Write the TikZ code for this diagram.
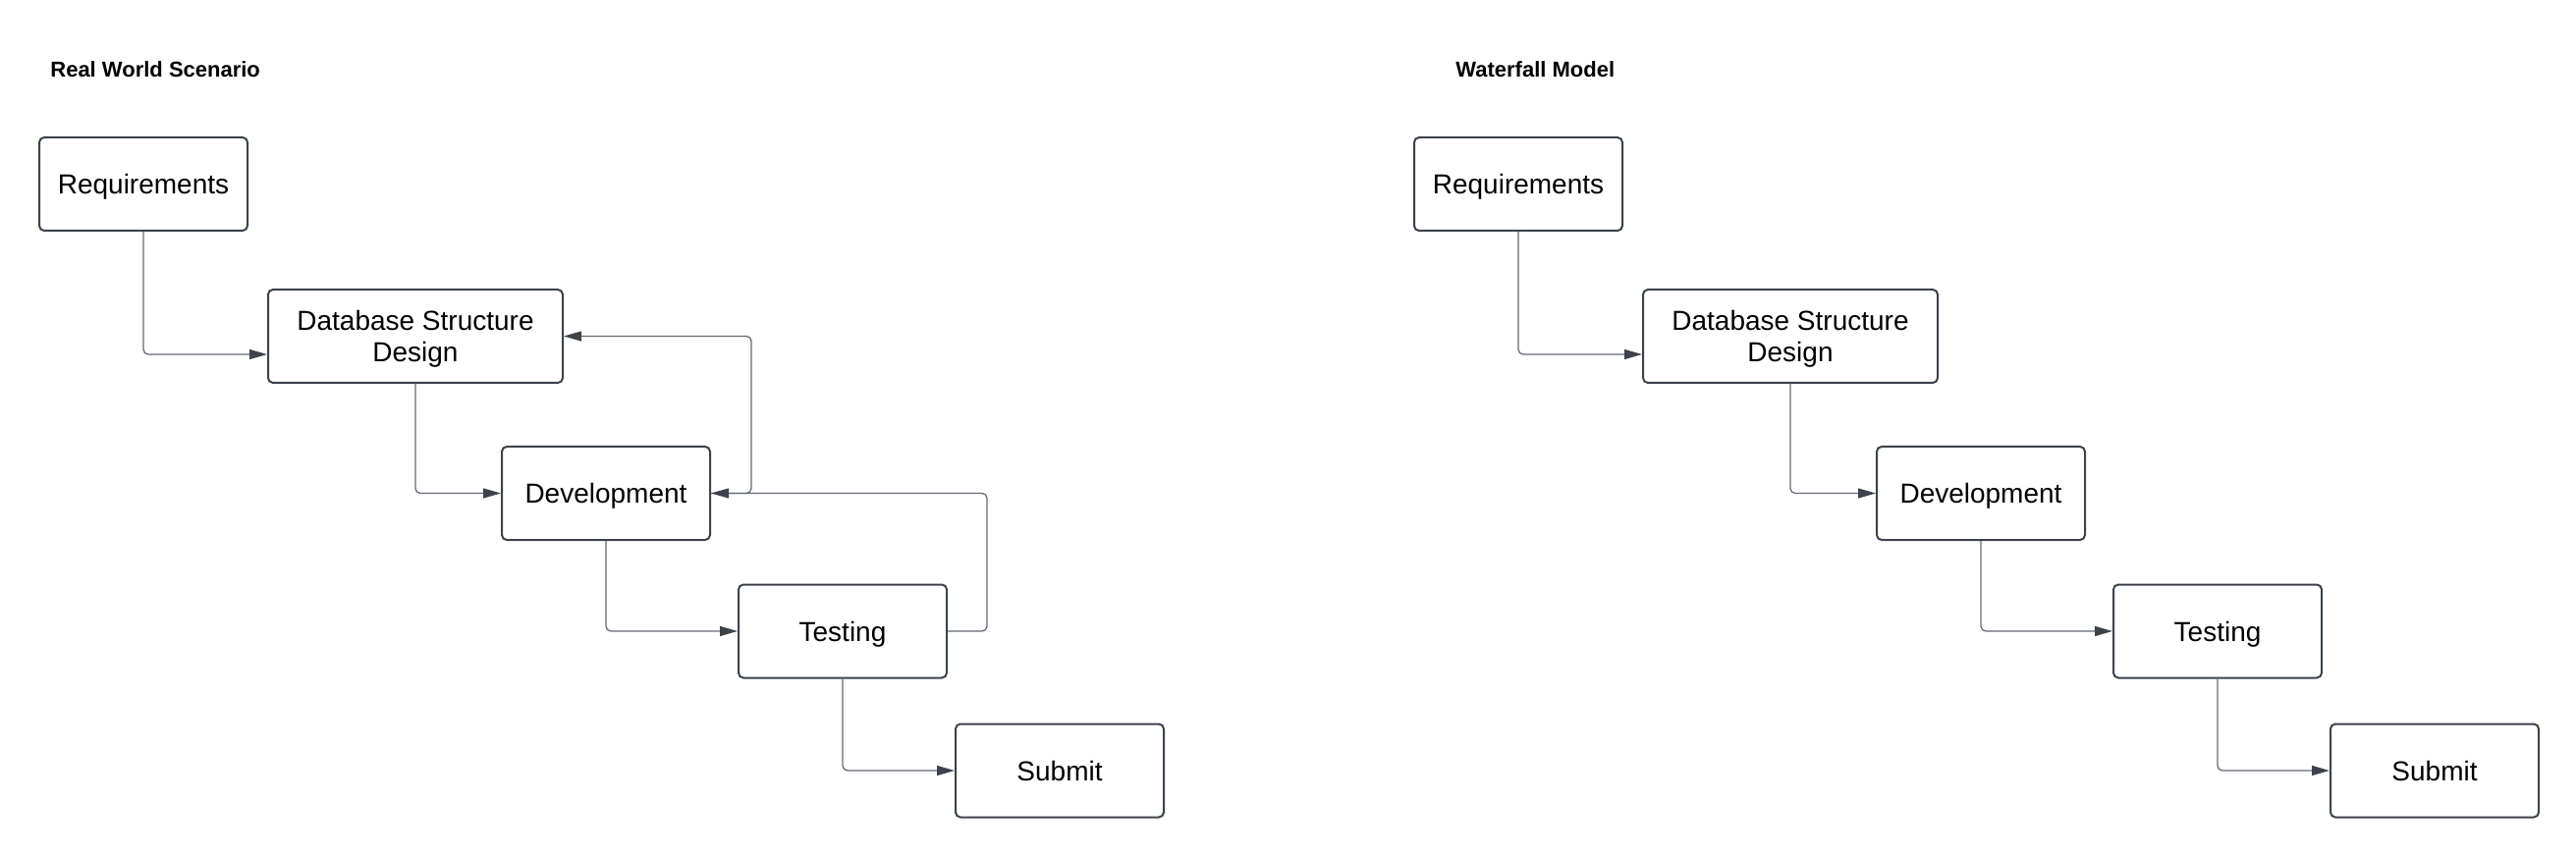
\documentclass[tikz,border=0pt]{standalone}
\usepackage{fontspec}
\setmainfont{Liberation Sans}
\usetikzlibrary{arrows.meta,positioning,calc}
\definecolor{boxline}{RGB}{61,66,77}
\definecolor{wire}{RGB}{100,106,117}
\tikzset{
  stage/.style={draw=boxline, line width=1pt, rounded corners=2.5pt, minimum width=106pt, minimum height=47.5pt, align=center, inner sep=2pt, text depth=0pt, font=\fontsize{14}{16}\selectfont},
  flow/.style={draw=wire, line width=0.65pt, rounded corners=2.5pt, -{Triangle[length=9pt,width=5pt,color=boxline]}},
  heading/.style={anchor=west, inner sep=0pt, font=\bfseries\fontsize{11}{13}\selectfont}
}
\begin{document}
\begin{tikzpicture}[x=0.5pt, y=-0.5pt]
    \useasboundingbox (0,0) rectangle (2623,871);
    \node[heading] (rw-title) at (51,71) {Real World Scenario};
    \node[heading] (wf-title) at (1482,71) {Waterfall Model};
    \foreach \off/\pre in {0/rw,1400/wf}{
        \node[stage] (\pre-req) at (\off+146,187.5) {Requirements};
        \node[stage, minimum width=150pt] (\pre-dsd) at (\off+423,342.5) {Database Structure\\Design};
        \node[stage] (\pre-dev) at (\off+617,502.5) {Development};
        \node[stage] (\pre-test) at (\off+858,643) {Testing};
        \node[stage] (\pre-sub) at (\off+1079,785) {Submit};
        \draw[flow] (\pre-req) |- ([yshift=-9.25pt]\pre-dsd.west);
        \draw[flow] (\pre-dsd) |- (\pre-dev);
        \draw[flow] (\pre-dev) |- (\pre-test);
        \draw[flow] (\pre-test) |- (\pre-sub);
    }
    \draw[flow] (rw-dev.east) -- ++(20.5pt,0) |- (rw-dsd.east);
    \draw[flow] (rw-test.east) -- ++(20pt,0) |- (rw-dev.east);
\end{tikzpicture}
\end{document}
